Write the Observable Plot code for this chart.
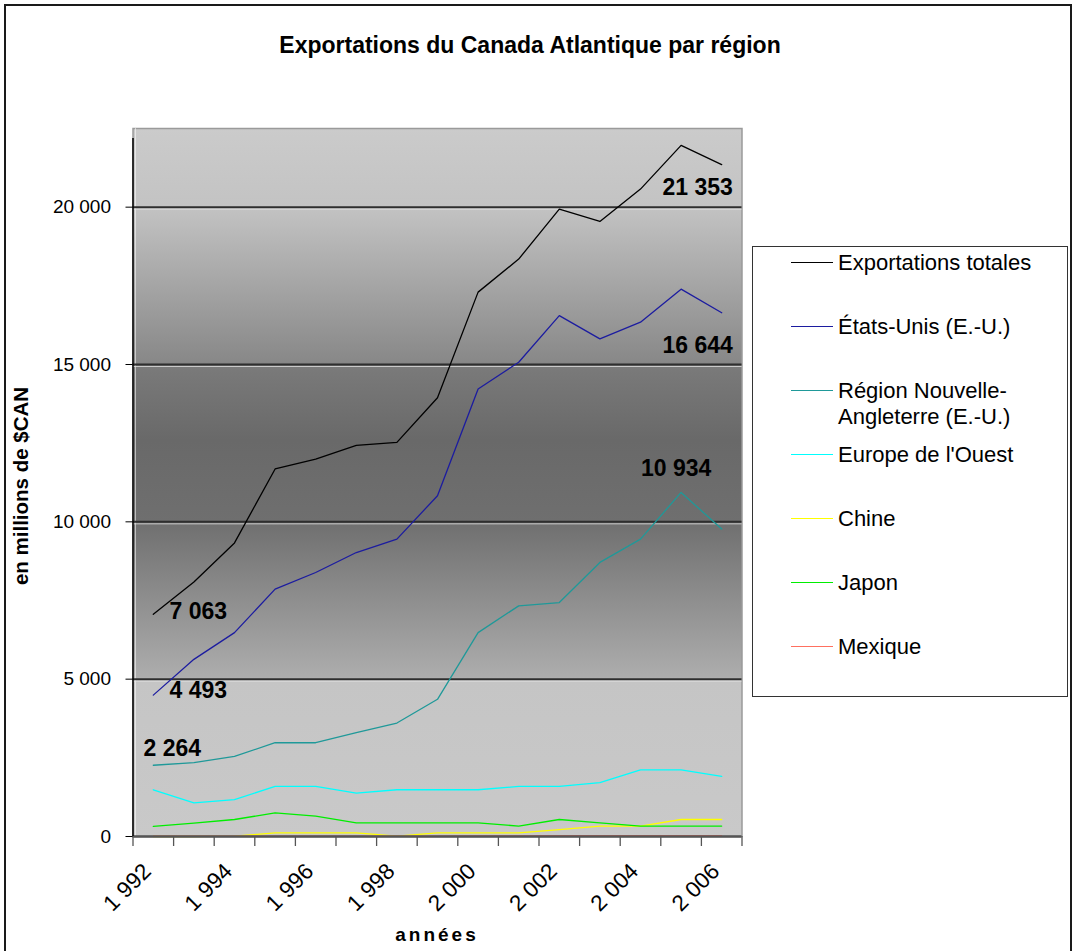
<!DOCTYPE html>
<html>
<head>
<meta charset="utf-8">
<script src="https://cdn.jsdelivr.net/npm/d3@7"></script>
<script src="https://cdn.jsdelivr.net/npm/@observablehq/plot@0.6"></script>
<style>
  body { margin: 0; background: #fff; }
  #chart { position: relative; width: 1076px; height: 951px; overflow: hidden; background: #fff;
           font-family: "Liberation Sans", Arial, sans-serif; color: #000; }
  #outer { position: absolute; left: 4px; top: 4px; width: 1064px; height: 990px; border: 2px solid #1a1a1a; }
  #title { position: absolute; left: 0; width: 1060px; top: 31px; text-align: center; font-weight: bold; font-size: 23px; line-height: 28px; }
  #xtitle { position: absolute; left: 287px; width: 300px; top: 924px; text-align: center; font-weight: bold; font-size: 19px; line-height: 22px; letter-spacing: 3px; }
  #ytitle { position: absolute; left: -129px; width: 300px; top: 474px; text-align: center; font-weight: bold; font-size: 20.5px; line-height: 24px; transform: rotate(-90deg); transform-origin: 50% 50%; }
  #legend { position: absolute; left: 752px; top: 246px; width: 314px; height: 449px; border: 1.5px solid #333; background: #fff; }
  .item { position: absolute; left: 0; width: 310px; }
  .swatch { position: absolute; left: 38px; width: 42px; height: 0; border-top: 1.5px solid; }
  .label { position: absolute; left: 85px; font-size: 22px; line-height: 26.5px; white-space: nowrap; }
  #plot { position: absolute; left: 0; top: 0; }
</style>
</head>
<body>
<div id="chart">
  <div id="outer"></div>
  <div id="title">Exportations du Canada Atlantique par région</div>
  <div id="plot"></div>
  <div id="legend"></div>
  <div id="ytitle">en millions de $CAN</div>
  <div id="xtitle">années</div>
</div>
<script>
// ---------------- DATA ----------------
const years = [1992, 1993, 1994, 1995, 1996, 1997, 1998, 1999, 2000, 2001, 2002, 2003, 2004, 2005, 2006];
const seriesNames = [
  "Exportations totales",
  "États-Unis (E.-U.)",
  "Région Nouvelle-Angleterre (E.-U.)",
  "Europe de l'Ouest",
  "Chine",
  "Japon",
  "Mexique"
];
const legendLabels = [
  ["Exportations totales"],
  ["États-Unis (E.-U.)"],
  ["Région Nouvelle-", "Angleterre (E.-U.)"],
  ["Europe de l'Ouest"],
  ["Chine"],
  ["Japon"],
  ["Mexique"]
];
const totalExports = [7063, 8090, 9330, 11680, 11995, 12430, 12525, 13945, 17300, 18350, 19940, 19545, 20575, 21965, 21353];
const unitedStates = [4493, 5630, 6480, 7860, 8390, 9025, 9450, 10830, 14220, 15070, 16555, 15815, 16345, 17395, 16644];
const newEngland   = [2264, 2345, 2545, 2980, 2980, 3300, 3605, 4360, 6480, 7330, 7435, 8710, 9450, 10934, 9770];
const westEurope   = [1485, 1070, 1175, 1590, 1590, 1380, 1485, 1485, 1485, 1590, 1590, 1710, 2120, 2120, 1910];
const china        = [0, 0, 10, 115, 115, 115, 15, 115, 115, 115, 220, 330, 330, 540, 540];
const japan        = [320, 425, 540, 750, 645, 435, 435, 435, 435, 330, 540, 435, 330, 330, 330];
const mexico       = [10, 10, 10, 15, 15, 15, 15, 15, 20, 20, 25, 25, 30, 30, 30];
const yTicks = [0, 5000, 10000, 15000, 20000];
const xTickLabels = [1992, 1994, 1996, 1998, 2000, 2002, 2004, 2006];
const seriesColors = ["#000000", "#1c1ca0", "#1f9999", "#00ffff", "#ffff00", "#00ee00", "#ff7060"];

// ---------------- BUILD ----------------
const allSeries = [totalExports, unitedStates, newEngland, westEurope, china, japan, mexico];
const rows = [];
allSeries.forEach((vals, si) => vals.forEach((v, i) => rows.push({series: seriesNames[si], year: years[i], value: v})));

const fmt = d => d3.format(",")(d).replace(/,/g, " ");
const boundaries = years.map(y => y - 0.5).concat([years[years.length - 1] + 0.5]);

// labelled points (series index, year) with text offsets
const annotations = [
  {s: 0, year: 2006, dx: -24, dy: 23},
  {s: 1, year: 2006, dx: -24, dy: 33},
  {s: 2, year: 2005, dx: -5, dy: -24},
  {s: 0, year: 1992, dx: 45, dy: -3},
  {s: 1, year: 1992, dx: 45, dy: -4},
  {s: 2, year: 1992, dx: 19, dy: -17}
];
const annotationMarks = annotations.map(a => {
  const v = allSeries[a.s][years.indexOf(a.year)];
  return Plot.text([{year: a.year, value: v}], {
    x: "year", y: "value", text: d => fmt(d.value),
    dx: a.dx, dy: a.dy, fontSize: 23, fontWeight: "bold", fill: "#000"
  });
});

const gridVals = yTicks.filter(d => d > 0);

const svg = Plot.plot({
  width: 1076,
  height: 951,
  marginTop: 128,
  marginBottom: 115,
  marginLeft: 132.5,
  marginRight: 334.5,
  style: {fontFamily: "'Liberation Sans', Arial, sans-serif", fontSize: "19px", background: "transparent", overflow: "visible", color: "#000"},
  x: {domain: [years[0] - 0.5, years[years.length - 1] + 0.5], axis: null},
  y: {domain: [0, 22500], axis: null},
  color: {domain: seriesNames, range: seriesColors},
  marks: [
    Plot.frame({fill: "url(#plotbg)", stroke: "#9a9a9a", strokeWidth: 1.5}),
    Plot.ruleX([years[0] - 0.5], {stroke: "#ffffff", strokeOpacity: 0.55, dx: 2.5}),
    Plot.ruleY(gridVals, {stroke: "#2e2e2e", strokeWidth: 2}),
    Plot.ruleY(gridVals, {stroke: "#e6e6e6", strokeOpacity: 0.75, strokeWidth: 1, dy: 2}),
    Plot.line(rows, {x: "year", y: "value", z: "series", stroke: "series", strokeWidth: 1.3}),
    Plot.ruleY([0], {stroke: "#555555", strokeWidth: 2.5}),
    Plot.axisX({ticks: boundaries, tickSize: 10, tickFormat: () => "", stroke: "#555", strokeWidth: 1.3, label: null}),
    Plot.ruleX([years[0] - 0.5], {y1: 0, y2: 22500, stroke: "#000", strokeWidth: 1.5, insetBottom: -10}),
    Plot.axisY({ticks: yTicks, tickSize: 7, tickPadding: 15, tickFormat: fmt, fontSize: 19, label: null, stroke: "#000", fill: "#000"}),
    Plot.text(xTickLabels, {
      x: d => d, frameAnchor: "bottom", text: fmt, rotate: -45, textAnchor: "end",
      lineAnchor: "middle", dx: -6, dy: 31, fontSize: 22.5, fill: "#000"
    }),
    ...annotationMarks
  ]
});

// background gradient of the plot area
const gradStops = [
  [0, "#cbcbcb"], [0.11, "#c3c3c3"], [0.33, "#888888"], [0.336, "#7a7a7a"],
  [0.44, "#696969"], [0.555, "#6f6f6f"], [0.775, "#adadad"], [0.781, "#c5c5c5"], [1, "#c9c9c9"]
];
const defs = d3.select(svg).insert("defs", ":first-child");
const lg = defs.append("linearGradient").attr("id", "plotbg").attr("x1", 0).attr("y1", 0).attr("x2", 0).attr("y2", 1);
gradStops.forEach(([o, c]) => lg.append("stop").attr("offset", o).attr("stop-color", c));

document.getElementById("plot").appendChild(svg);

// legend
const legend = document.getElementById("legend");
seriesNames.forEach((name, i) => {
  const cy = 16 + 64 * i; // center of first text line, relative to box
  const item = document.createElement("div");
  item.className = "item";
  const sw = document.createElement("div");
  sw.className = "swatch";
  sw.style.borderTopColor = seriesColors[i];
  sw.style.top = (cy - 1) + "px";
  const lab = document.createElement("div");
  lab.className = "label";
  lab.style.top = (cy - 13.25) + "px";
  lab.innerHTML = legendLabels[i].join("<br>");
  item.appendChild(sw);
  item.appendChild(lab);
  legend.appendChild(item);
});
</script>
</body>
</html>
